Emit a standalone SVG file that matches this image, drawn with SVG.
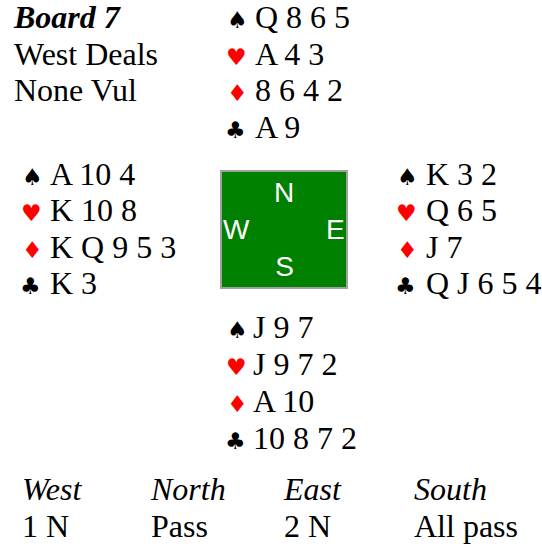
<svg xmlns="http://www.w3.org/2000/svg" width="542" height="552" viewBox="0 0 542 552">
<style>
.t{font-family:"Liberation Serif","Times New Roman",serif;font-size:32px;fill:#000}
.b{font-weight:bold;font-style:italic}
.i{font-style:italic}
.s{font-family:"DejaVu Sans",sans-serif;font-size:23px}
.k{fill:#000}
.r{fill:#ff0000}
.c{font-family:"Liberation Sans",Arial,sans-serif;font-size:28px;fill:#fff}
</style>
<rect width="542" height="552" fill="#fff"/>
<g id="info">
<text class="t b" x="14" y="28">Board 7</text>
<text class="t" x="14" y="64.5">West Deals</text>
<text class="t" x="14" y="101">None Vul</text>
</g>
<g id="north">
<text class="s k" x="227" y="28">♠</text><text class="t" x="255" y="28">Q 8 6 5</text>
<text class="s r" x="226" y="64.5">♥</text><text class="t" x="255" y="64.5">A 4 3</text>
<text class="s r" x="227" y="101">♦</text><text class="t" x="255" y="101">8 6 4 2</text>
<text class="s k" x="225" y="137.5">♣</text><text class="t" x="255" y="137.5">A 9</text>
</g>
<g id="west">
<text class="s k" x="22" y="184.5">♠</text><text class="t" x="50" y="184.5">A 10 4</text>
<text class="s r" x="21" y="221">♥</text><text class="t" x="50" y="221">K 10 8</text>
<text class="s r" x="22" y="257.5">♦</text><text class="t" x="50" y="257.5">K Q 9 5 3</text>
<text class="s k" x="20" y="294">♣</text><text class="t" x="50" y="294">K 3</text>
</g>
<g id="east">
<text class="s k" x="397" y="184.5">♠</text><text class="t" x="426" y="184.5">K 3 2</text>
<text class="s r" x="396" y="221">♥</text><text class="t" x="426" y="221">Q 6 5</text>
<text class="s r" x="397" y="257.5">♦</text><text class="t" x="426" y="257.5">J 7</text>
<text class="s k" x="395" y="294">♣</text><text class="t" x="426" y="294">Q J 6 5 4</text>
</g>
<g id="compass">
<rect x="221" y="171" width="126" height="117" fill="#008000" stroke="#a0a0a0" stroke-width="2"/>
<text class="c" x="284" y="202" text-anchor="middle">N</text>
<text class="c" x="223" y="239">W</text>
<text class="c" x="326" y="239">E</text>
<text class="c" x="284.5" y="276" text-anchor="middle">S</text>
</g>
<g id="south">
<text class="s k" x="227" y="338">♠</text><text class="t" x="253" y="338">J 9 7</text>
<text class="s r" x="226" y="375">♥</text><text class="t" x="253" y="375">J 9 7 2</text>
<text class="s r" x="227" y="412">♦</text><text class="t" x="253" y="412">A 10</text>
<text class="s k" x="225" y="449">♣</text><text class="t" x="253" y="449">10 8 7 2</text>
</g>
<g id="auction">
<text class="t i" x="22" y="500">West</text>
<text class="t i" x="151" y="500">North</text>
<text class="t i" x="284" y="500">East</text>
<text class="t i" x="414" y="500">South</text>
<text class="t" x="22" y="537">1 N</text>
<text class="t" x="151" y="537">Pass</text>
<text class="t" x="284" y="537">2 N</text>
<text class="t" x="414" y="537">All pass</text>
</g>
<g id="connectors"></g>
</svg>
